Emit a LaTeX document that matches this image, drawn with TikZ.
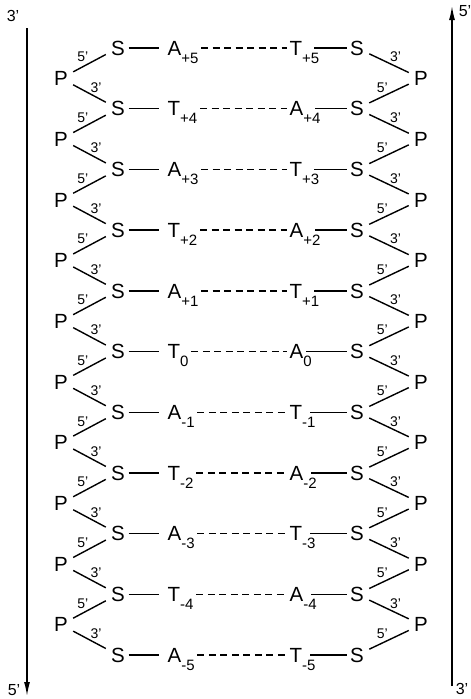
\documentclass[tikz,border=0pt]{standalone}
\usepackage{fontspec}
\setmainfont{Liberation Sans}
\usepackage{tikz}
\usetikzlibrary{arrows.meta}

% base letter with its lowered index
\newcommand\bs[2]{#1\raisebox{-8pt}{\fontsize{15}{15}\selectfont #2}}

\begin{document}
\begin{tikzpicture}[x=1pt,y=-1pt,line width=1.4pt,
  txt/.style={inner sep=2pt,text height=14.5pt,text depth=0pt,font=\fontsize{20.5}{20.5}\selectfont},
  lab/.style={inner sep=0.5pt,font=\fontsize{14}{14}\selectfont},
  bond/.style={shorten <=3pt,shorten >=3pt},
  hb/.style={dash pattern=on 7pt off 4.5pt}]
  \useasboundingbox (0,0) rectangle (471,699);
  % strand arrows
  \coordinate (ltop) at (27,28);
  \coordinate (lbot) at (27,696);
  \coordinate (rbot) at (452,686);
  \coordinate (rtop) at (452,6);
  \draw[-{Latex[length=14pt,width=6pt]}] (ltop) -- (lbot);
  \draw[-{Latex[length=14pt,width=6pt]}] (rbot) -- (rtop);
  \node[lab,font=\fontsize{16}{16}\selectfont] (lt) at (13,16) {3'};
  \node[lab,font=\fontsize{16}{16}\selectfont] (lb) at (14,690) {5'};
  \node[lab,font=\fontsize{16}{16}\selectfont] (rt) at (465,11) {5'};
  \node[lab,font=\fontsize{16}{16}\selectfont] (rb) at (462,689) {3'};
  % base pairs
  \foreach \i/\l/\r/\idx in {1/A/T/+5,2/T/A/+4,3/A/T/+3,4/T/A/+2,5/A/T/+1,6/T/A/0,
                            7/A/T/-1,8/T/A/-2,9/A/T/-3,10/T/A/-4,11/A/T/-5}{
    \pgfmathsetmacro\y{48+60.7*(\i-1)}
    \node[txt] (sl\i) at (118,\y) {S};
    \node[txt,anchor=west] (bl\i) at (165,\y) {\bs{\l}{\idx}};
    \node[txt,anchor=west] (br\i) at (287,\y) {\bs{\r}{\idx}};
    \node[txt] (sr\i) at (357,\y) {S};
    \draw[shorten <=1pt,shorten >=6pt] (sl\i) -- (bl\i);
    \draw[hb] (bl\i) -- (br\i);
    \draw[shorten <=-8pt] (br\i) -- (sr\i);
  }
  % phosphates
  \foreach \i in {1,...,10}{
    \pgfmathtruncatemacro\j{\i+1}
    \pgfmathsetmacro\y{48+60.7*(\i-1)+30.35}
    \node[txt] (pl\i) at (61,\y) {P};
    \node[txt] (pr\i) at (421,\y) {P};
    \draw[bond] (pl\i) -- node[lab,above left] {5'} (sl\i);
    \draw[bond] (pl\i) -- node[lab,above right] {3'} (sl\j);
    \draw[bond] (sr\i) -- node[lab,above right] {3'} (pr\i);
    \draw[bond] (pr\i) -- node[lab,above left] {5'} (sr\j);
  }
\end{tikzpicture}
\end{document}
